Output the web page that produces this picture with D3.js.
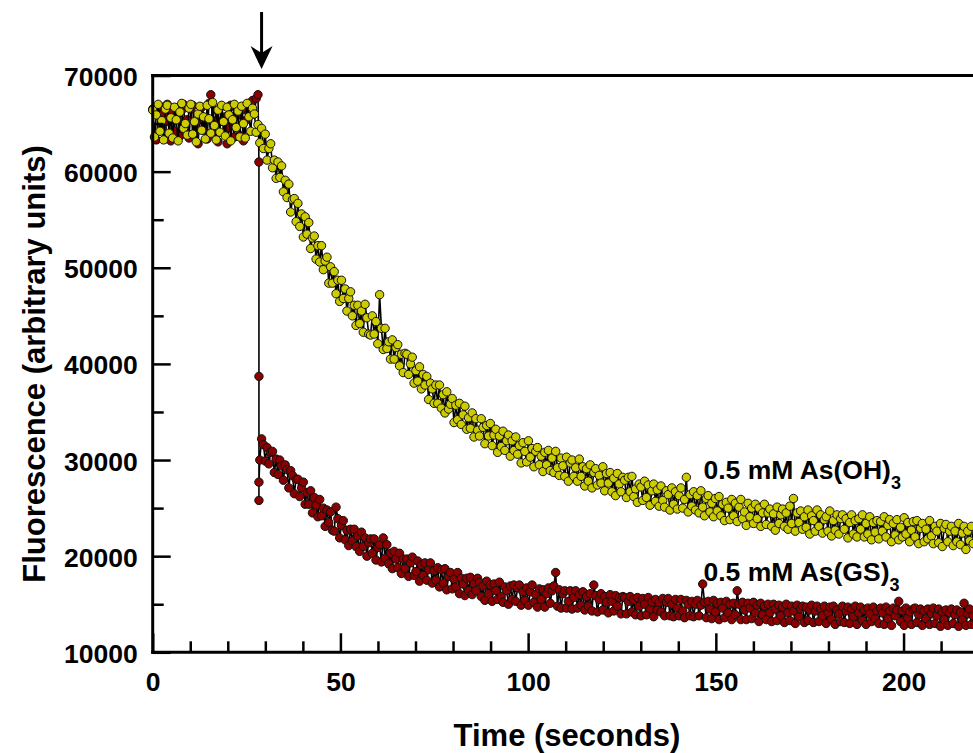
<!DOCTYPE html>
<html>
<head>
<meta charset="utf-8">
<script src="https://cdn.jsdelivr.net/npm/d3@7"></script>
<style>
body { margin: 0; background: #fff; }
svg { display: block; font-family: "Liberation Sans", Arial, sans-serif; font-weight: bold; }
</style>
</head>
<body>
<div id="chart"></div>
<script>
// Both traces are sampled at the same interval (seconds)
var sampleInterval = 0.4835;

// 0.5 mM As(OH)3 trace, fluorescence in thousands of units
var asOHK = [
  66.4, 63.6, 65.9, 67.0, 64.2, 65.3, 63.3, 66.5, 66.9, 64.0, 65.6, 63.5, 66.7, 65.4, 63.2, 66.2, 67.1, 64.5, 65.0, 63.8,
  66.6, 67.0, 63.9, 65.2, 63.1, 66.0, 66.8, 64.3, 65.7, 63.4, 66.9, 65.5, 64.0, 67.2, 64.8, 63.3, 66.4, 64.1, 66.9, 65.2,
  63.7, 66.7, 65.9, 63.2, 65.4, 67.0, 64.6, 66.3, 63.6, 66.8, 65.0, 63.5, 67.1, 65.7, 64.2, 66.6, 66.0, 64.1, 64.9, 63.0,
  64.5, 62.4, 63.9, 61.2, 62.4, 62.9, 60.4, 61.2, 59.3, 61.0, 59.4, 60.6, 57.9, 59.1, 57.3, 58.7, 55.8, 57.1, 57.2, 54.8,
  56.7, 54.3, 55.6, 53.2, 55.3, 53.5, 54.7, 52.0, 53.1, 53.3, 50.9, 52.3, 50.6, 52.3, 49.8, 50.7, 51.1, 48.4, 50.1, 48.4,
  49.6, 47.3, 48.7, 46.5, 48.7, 46.8, 47.8, 45.5, 46.8, 47.5, 45.0, 46.1, 44.0, 46.1, 44.2, 45.5, 43.3, 46.2, 44.8, 43.1,
  43.0, 45.0, 43.1, 44.4, 42.1, 47.2, 43.7, 41.5, 43.7, 41.6, 42.3, 40.5, 42.5, 40.5, 41.7, 42.0, 39.8, 41.0, 39.1, 41.1,
  41.0, 38.9, 40.0, 40.7, 38.0, 39.3, 38.2, 39.7, 37.4, 38.9, 37.8, 38.7, 36.3, 38.0, 37.4, 35.9, 37.8, 35.9, 37.8, 35.4,
  36.8, 34.9, 37.1, 35.3, 35.8, 36.4, 33.9, 35.7, 34.2, 35.9, 33.7, 34.7, 35.6, 33.2, 34.4, 33.3, 34.9, 32.4, 34.3, 33.1,
  32.5, 34.3, 33.4, 31.7, 33.6, 32.5, 33.8, 31.5, 32.6, 33.2, 30.8, 32.5, 31.4, 33.0, 31.0, 32.0, 32.6, 30.4, 32.0, 31.0,
  32.4, 30.6, 31.5, 29.7, 31.8, 30.9, 29.8, 32.0, 30.3, 31.2, 29.3, 30.9, 31.3, 29.5, 30.4, 28.8, 30.8, 29.5, 31.0, 28.9,
  30.2, 28.7, 30.9, 29.2, 28.4, 30.2, 29.4, 28.3, 30.3, 27.8, 29.7, 30.0, 28.3, 29.2, 27.8, 30.1, 28.3, 29.3, 27.3, 29.1,
  27.8, 29.5, 27.1, 28.7, 29.1, 27.4, 28.4, 27.6, 29.3, 26.8, 28.6, 27.6, 28.7, 26.7, 28.1, 26.3, 28.6, 27.5, 26.7, 28.2,
  27.9, 26.1, 28.2, 26.7, 28.3, 26.2, 27.0, 25.6, 27.5, 27.2, 25.8, 27.8, 26.1, 27.4, 25.3, 26.8, 27.5, 25.7, 26.9, 25.2,
  27.3, 25.8, 25.1, 26.8, 26.4, 24.8, 27.1, 25.4, 26.7, 24.9, 26.3, 27.1, 25.0, 25.9, 28.2, 24.6, 26.4, 25.2, 26.7, 24.8,
  26.3, 24.5, 26.8, 25.1, 24.2, 26.0, 26.3, 24.6, 25.5, 24.1, 26.0, 24.7, 26.2, 24.2, 25.4, 23.7, 25.6, 25.0, 23.8, 25.9,
  24.2, 25.5, 23.6, 25.1, 25.9, 23.9, 24.6, 23.2, 25.5, 24.1, 25.0, 23.4, 25.4, 23.9, 25.0, 23.1, 24.5, 25.4, 23.3, 24.5,
  24.9, 23.1, 24.4, 22.7, 25.1, 23.4, 24.3, 24.9, 23.1, 24.5, 22.8, 25.2, 23.4, 26.0, 22.6, 24.5, 23.5, 24.7, 22.8, 24.1,
  23.0, 24.8, 22.3, 24.2, 23.7, 22.6, 24.8, 23.1, 24.3, 22.4, 23.8, 24.1, 22.6, 24.7, 22.1, 23.7, 22.7, 24.3, 22.3, 23.9,
  24.3, 22.8, 23.9, 21.9, 23.5, 24.3, 22.3, 23.7, 22.0, 23.9, 22.8, 24.3, 22.0, 23.4, 22.3, 24.1, 21.7, 23.5, 22.5, 23.7,
  21.8, 23.6, 22.6, 24.1, 22.0, 23.2, 23.8, 21.5, 23.4, 22.2, 23.8, 21.7, 23.0, 22.0, 24.0, 22.3, 23.5, 21.5, 22.7, 23.6,
  22.0, 23.7, 21.3, 22.9, 23.4, 21.5, 22.8, 21.8, 23.7, 22.1, 21.3, 23.1, 22.6, 21.4, 23.4, 21.0, 22.9, 23.3, 21.5, 22.6,
  23.1, 21.1, 22.6, 21.5, 23.4, 21.2, 22.4, 23.1, 20.7, 22.6, 21.6, 23.1, 21.3
];

// 0.5 mM As(GS)3 trace, fluorescence in thousands of units
var asGSK = [
  66.5, 63.6, 63.3, 65.9, 66.8, 64.5, 66.1, 63.4, 67.0, 65.2, 63.2, 66.3, 64.2, 66.6, 65.5, 63.7, 66.4, 67.0, 64.1, 65.4,
  63.5, 66.5, 66.9, 63.9, 65.1, 62.9, 66.0, 66.7, 64.3, 65.6, 63.4, 67.1, 68.0, 65.3, 63.8, 66.4, 63.1, 65.2, 66.8, 64.0,
  65.7, 62.9, 64.6, 66.9, 65.1, 63.6, 66.6, 65.9, 63.8, 66.4, 63.2, 65.3, 67.0, 66.1, 66.9, 67.4, 66.0, 67.6, 68.0,
  30.0, 32.2, 31.6, 29.9, 31.3, 29.6, 30.8, 30.9, 28.7, 30.1, 28.5, 30.0, 29.4, 27.9, 29.5, 29.0, 27.1, 28.9, 28.4, 26.5, 28.0,
  28.0, 26.2, 27.1, 27.7, 25.4, 26.6, 25.4, 26.8, 24.5, 26.1, 25.3, 24.1, 25.9, 24.2, 25.0, 23.1, 24.8, 23.5, 24.6, 22.7,
  22.6, 25.1, 23.9, 21.9, 23.2, 23.7, 21.7, 22.7, 21.1, 22.8, 21.6, 22.8, 21.0, 22.1, 20.5, 22.5, 21.0, 21.9, 20.0, 21.4,
  21.8, 20.3, 21.8, 19.6, 20.9, 21.2, 19.4, 21.9, 19.8, 21.2, 19.2, 20.3, 18.7, 20.5, 19.7, 18.8, 20.3, 18.2, 19.7, 18.7,
  19.7, 17.9, 19.3, 19.9, 18.0, 18.4, 19.5, 17.4, 19.1, 18.0, 19.3, 17.5, 18.6, 19.3, 17.2, 18.5, 17.5, 18.8, 16.8, 18.6,
  17.2, 18.7, 16.5, 17.9, 18.3, 16.6, 17.6, 16.8, 18.3, 16.1, 17.7, 17.1, 15.9, 17.7, 16.4, 17.8, 16.0, 17.1, 16.4, 17.7,
  17.3, 15.8, 16.9, 15.4, 17.4, 16.1, 17.0, 15.3, 17.1, 16.4, 15.5, 17.3, 15.8, 15.2, 16.8, 16.4, 15.0, 16.9, 15.5, 17.0,
  15.3, 16.7, 17.0, 14.9, 16.3, 15.4, 16.7, 14.9, 16.3, 17.0, 15.2, 16.0, 14.7, 16.6, 15.5, 16.5, 14.7, 16.1, 16.7, 15.1,
  16.4, 16.9, 18.3, 14.8, 16.5, 14.6, 16.1, 16.4, 14.6, 15.3, 16.4, 14.5, 15.7, 16.4, 14.6, 16.0, 14.9, 16.3, 14.4, 15.8,
  14.8, 16.1, 14.3, 17.0, 15.9, 14.2, 15.5, 16.1, 14.4, 15.8, 15.2, 14.1, 16.0, 15.3, 14.3, 15.9, 14.8, 15.7, 14.0, 15.8,
  15.7, 14.0, 15.3, 15.8, 14.2, 15.5, 13.9, 15.7, 14.8, 13.8, 15.6, 15.0, 13.9, 15.7, 14.5, 15.2, 13.7, 15.5, 14.4, 15.2,
  14.2, 15.6, 13.8, 15.2, 15.6, 13.8, 15.0, 13.7, 15.5, 14.6, 13.8, 15.5, 14.3, 13.6, 15.4, 15.0, 13.8, 15.3, 13.7, 15.0,
  15.4, 13.8, 14.9, 17.1, 15.2, 13.6, 15.3, 14.5, 13.5, 15.4, 14.2, 15.1, 13.4, 15.2, 14.6, 13.6, 15.3, 14.1, 15.0, 13.4,
  15.1, 13.9, 16.4, 15.0, 13.4, 15.2, 14.4, 13.4, 15.1, 14.6, 13.5, 15.2, 14.1, 14.9, 13.2, 15.1, 13.9, 14.8, 13.4, 15.0,
  14.1, 13.2, 15.0, 14.5, 13.3, 14.9, 13.8, 14.7, 13.1, 15.0, 14.1, 13.3, 14.8, 14.3, 13.0, 14.9, 13.7, 14.5, 14.8, 13.1,
  14.7, 13.3, 14.4, 14.9, 13.1, 14.3, 14.8, 13.2, 14.5, 13.8, 14.8, 13.0, 14.1, 14.7, 13.4, 14.8, 12.9, 14.4, 14.0, 13.2,
  14.8, 13.1, 14.3, 14.7, 13.0, 14.5, 13.7, 14.8, 12.9, 14.1, 14.7, 13.3, 14.4, 12.9, 14.6, 14.0, 13.2, 14.7, 13.5, 14.3,
  13.0, 14.6, 14.1, 12.9, 14.7, 13.5, 14.3, 12.8, 14.6, 13.8, 14.4, 15.3, 13.2, 14.3, 12.8, 14.6, 13.6, 14.2, 12.9, 14.5,
  14.6, 13.1, 13.9, 14.5, 12.8, 14.3, 13.5, 14.5, 12.9, 14.0, 14.6, 13.0, 13.8, 14.5, 12.7, 14.2, 13.4, 14.4, 12.8, 14.1,
  14.5, 13.0, 13.9, 14.4, 12.7, 14.2, 13.4, 15.1, 12.8, 14.0, 14.5, 12.9, 13.8
];

// Points recorded during the injection of the As(GS)3 trace
var asGSDropTime = 28.3;
var asGSDropAfter = 59;
var asGSDropK = [61.0, 38.7, 25.8, 27.7];

var injectionTime = 29;

var xMajorTicks = [0, 50, 100, 150, 200];
var xMinorTicks = [10, 20, 30, 40, 60, 70, 80, 90, 110, 120, 130, 140, 160, 170, 180, 190, 210];
var yMajorTicks = [10000, 20000, 30000, 40000, 50000, 60000, 70000];
var yMinorTicks = [15000, 25000, 35000, 45000, 55000, 65000];

var traceLabels = [
  { name: '0.5 mM As(OH)', sub: '3', t: 146.7, v: 28000 },
  { name: '0.5 mM As(GS)', sub: '3', t: 146.7, v: 17400 }
];

var width = 973, height = 753;

var svg = d3.select('#chart').append('svg')
  .attr('width', width)
  .attr('height', height);

var x = d3.scaleLinear().domain([0, 218.5]).range([152.7, 973]);
var y = d3.scaleLinear().domain([10000, 70000]).range([652.3, 75.5]);

// Build point lists
var asOH = asOHK.map(function(v, i) {
  return { t: i * sampleInterval, v: v * 1000 };
});
var asGS = [];
asGSK.forEach(function(v, i) {
  if (i === asGSDropAfter) {
    asGSDropK.forEach(function(d) {
      asGS.push({ t: asGSDropTime, v: d * 1000 });
    });
  }
  asGS.push({ t: i * sampleInterval, v: v * 1000 });
});

var line = d3.line()
  .x(function(d) { return x(d.t); })
  .y(function(d) { return y(d.v); });

function drawTrace(data, fill) {
  var g = svg.append('g');
  g.append('path')
    .datum(data)
    .attr('d', line)
    .attr('fill', 'none')
    .attr('stroke', '#000')
    .attr('stroke-width', 1.6);
  g.selectAll('circle')
    .data(data)
    .enter()
    .append('circle')
    .attr('cx', function(d) { return x(d.t); })
    .attr('cy', function(d) { return y(d.v); })
    .attr('r', 4.2)
    .attr('fill', fill)
    .attr('stroke', '#111')
    .attr('stroke-width', 1);
}

drawTrace(asGS, '#8b0000');
drawTrace(asOH, '#cccc00');

// Axes
function styleAxis(g) {
  g.select('.domain').remove();
  g.selectAll('.tick line').attr('stroke', '#000').attr('stroke-width', 2.5);
  g.selectAll('.tick text')
    .attr('fill', '#000')
    .style('font-size', '26.5px')
    .style('font-weight', 'bold')
    .style('font-family', '"Liberation Sans", Arial, sans-serif');
}

svg.append('g')
  .attr('transform', 'translate(0,' + y.range()[0] + ')')
  .call(d3.axisBottom(x).tickValues(xMinorTicks).tickSize(-11).tickFormat(''))
  .call(styleAxis);

svg.append('g')
  .attr('transform', 'translate(0,' + y.range()[0] + ')')
  .call(d3.axisBottom(x).tickValues(xMajorTicks).tickSize(-19).tickPadding(20).tickFormat(d3.format('d')))
  .call(styleAxis);

svg.append('g')
  .attr('transform', 'translate(' + x.range()[0] + ',0)')
  .call(d3.axisLeft(y).tickValues(yMinorTicks).tickSize(-11).tickFormat(''))
  .call(styleAxis);

svg.append('g')
  .attr('transform', 'translate(' + x.range()[0] + ',0)')
  .call(d3.axisLeft(y).tickValues(yMajorTicks).tickSize(-18).tickPadding(15).tickFormat(d3.format('d')))
  .call(styleAxis)
  .selectAll('.tick text').attr('dy', '0.38em');

// Frame: left, bottom and top lines
var frame = svg.append('g')
  .attr('stroke', '#000')
  .attr('stroke-width', 3)
  .attr('stroke-linecap', 'square');
frame.append('line')
  .attr('x1', x.range()[0]).attr('x2', x.range()[0])
  .attr('y1', y.range()[1]).attr('y2', y.range()[0]);
frame.append('line')
  .attr('x1', x.range()[0]).attr('x2', x.range()[1] + 5)
  .attr('y1', y.range()[0]).attr('y2', y.range()[0]);
frame.append('line')
  .attr('x1', x.range()[0]).attr('x2', x.range()[1] + 5)
  .attr('y1', y.range()[1]).attr('y2', y.range()[1]);

// Injection arrow
var ax = x(injectionTime);
svg.append('line')
  .attr('x1', ax).attr('x2', ax)
  .attr('y1', 12).attr('y2', 54)
  .attr('stroke', '#000')
  .attr('stroke-width', 3);
svg.append('path')
  .attr('d', 'M' + ax + ',69 L' + (ax - 11) + ',46 L' + ax + ',53 L' + (ax + 11) + ',46 Z')
  .attr('fill', '#000');

// Trace labels
traceLabels.forEach(function(l) {
  var t = svg.append('text')
    .attr('x', x(l.t))
    .attr('y', y(l.v))
    .attr('fill', '#000')
    .style('font-size', '26.5px');
  t.append('tspan').text(l.name);
  t.append('tspan').attr('dy', 10).style('font-size', '18px').text(l.sub);
});

// Axis titles
svg.append('text')
  .attr('x', 567)
  .attr('y', 746)
  .attr('text-anchor', 'middle')
  .style('font-size', '31px')
  .text('Time (seconds)');

svg.append('text')
  .attr('transform', 'translate(45,364) rotate(-90)')
  .attr('text-anchor', 'middle')
  .style('font-size', '31px')
  .text('Fluorescence (arbitrary units)');
</script>
</body>
</html>
